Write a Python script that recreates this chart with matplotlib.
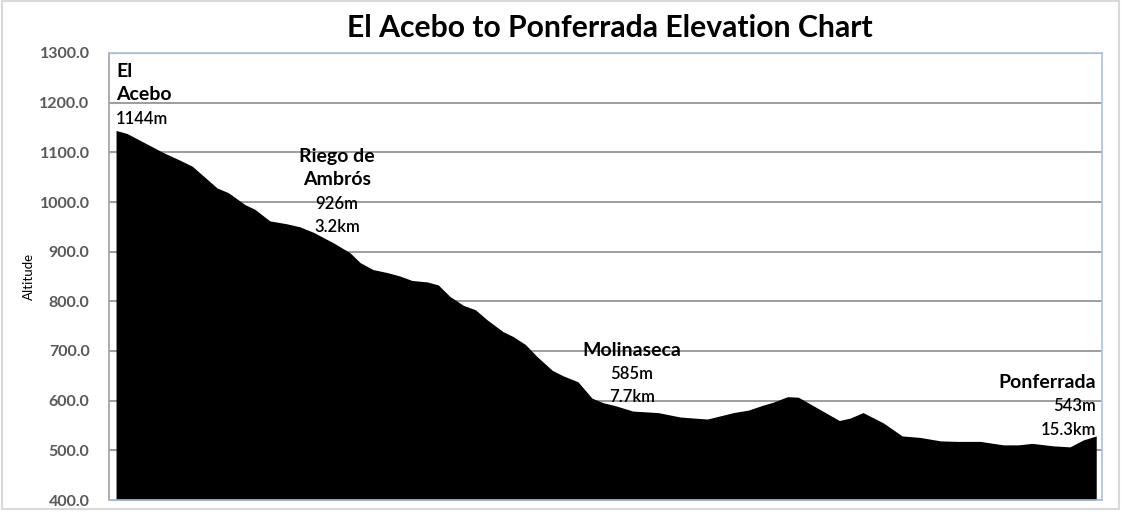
import matplotlib
matplotlib.use("Agg")
import matplotlib.pyplot as plt
from matplotlib.patches import Rectangle

# distance along the route (km) and altitude (m)
dist_km = [0.00, 0.17, 0.73, 1.00, 1.19, 1.58, 1.75, 2.01, 2.17, 2.40,
           2.67, 2.87, 3.08, 3.39, 3.65, 3.81, 4.01, 4.23, 4.43, 4.62,
           4.86, 5.03, 5.21, 5.42, 5.61, 5.79, 6.04, 6.20, 6.39, 6.57,
           6.81, 6.98, 7.21, 7.43, 7.60, 7.79, 8.07, 8.46, 8.81, 9.23,
           9.64, 9.87, 10.10, 10.26, 10.48, 10.65, 10.99, 11.29, 11.46, 11.66,
           11.98, 12.27, 12.55, 12.87, 13.13, 13.49, 13.85, 14.08, 14.30, 14.63,
           14.89, 15.10, 15.30]
altitude = [1144, 1138, 1100, 1084, 1072, 1028, 1019, 995, 985, 962,
            956, 950, 939, 918, 898, 878, 864, 858, 851, 842,
            839, 833, 810, 792, 783, 763, 739, 729, 713, 689,
            661, 650, 638, 605, 596, 590, 579, 576, 567, 563,
            576, 581, 591, 597, 608, 607, 582, 560, 565, 576,
            555, 529, 526, 519, 518, 518, 511, 511, 514, 509,
            507, 521, 529]

# town labels
towns = [["El", "Acebo"], ["Riego de", "Ambrós"], ["Molinaseca"], ["Ponferrada"]]
town_info = [["1144m"], ["926m", "3.2km"], ["585m", "7.7km"], ["543m", "15.3km"]]
label_x = [0.0, 3.45, 8.05, 15.3]
label_y = [1263, 1092, 702, 636]
label_ha = ["left", "center", "center", "right"]

plt.rcParams["font.family"] = ["Lato", "DejaVu Sans"]

fig = plt.figure(figsize=(11.25, 5.14), dpi=100)
ax = fig.add_axes([109 / 1125, 1 - 500 / 514, (1102 - 109) / 1125, (500 - 53) / 514])

ax.fill_between(dist_km, altitude, 400, color="black", lw=0, zorder=2)
ax.set_xlim(-0.11, 15.39)
ax.set_ylim(400, 1300)
ax.set_yticks(range(400, 1301, 100))
ax.set_yticklabels([f"{v:.1f}" for v in range(400, 1301, 100)],
                   fontsize=11.5, fontweight="bold", color="#595959")
ax.set_xticks([])
ax.tick_params(axis="y", direction="in", length=5, color="#a0a0a0", pad=14)
ax.grid(axis="y", color="#8c8c8c", lw=1.2, zorder=1)
for side in ("top", "right", "bottom"):
    ax.spines[side].set_color("#a9c0e4")
    ax.spines[side].set_linewidth(1.2)
ax.spines["left"].set_color("#a0a0a0")
ax.spines["left"].set_linewidth(1.2)

ax.set_ylabel("Altitude", fontsize=9.5)
ax.yaxis.set_label_coords(-0.075, 0.5)

fig.text(0.542, 0.945, "El Acebo to Ponferrada Elevation Chart",
         ha="center", va="center", fontsize=21.7, fontweight="bold")

# each label line placed 23 px below the previous one
for name, info, x, y, ha in zip(towns, town_info, label_x, label_y, label_ha):
    lines = [(s, 14, "bold") for s in name] + [(s, 12, "semibold") for s in info]
    for i, (s, size, weight) in enumerate(lines):
        ax.annotate(s, (x, y), xytext=(0, -17.0 * i), textcoords="offset points",
                    ha=ha, va="center", fontsize=size, fontweight=weight, zorder=3)

fig.patches.append(Rectangle((0.002, 0.01), 0.993, 0.988, transform=fig.transFigure,
                             fill=False, edgecolor="#d9d9d9", lw=1.5))

fig.savefig("out.png", dpi=100)
